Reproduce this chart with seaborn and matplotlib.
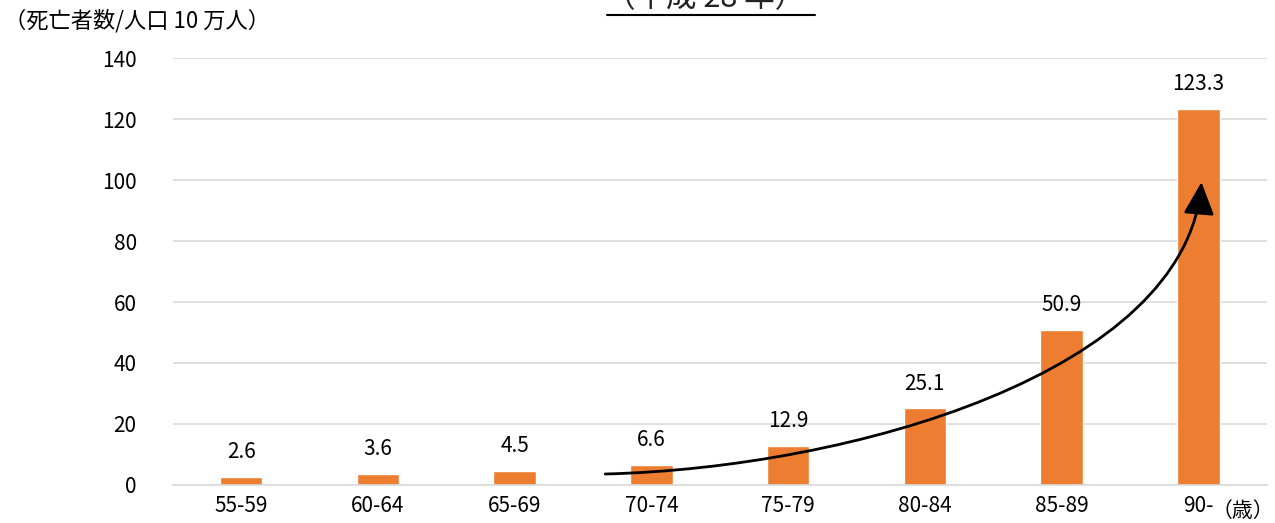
import matplotlib
matplotlib.use("Agg")
import numpy as np
import pandas as pd
import matplotlib.pyplot as plt
import seaborn as sns
from matplotlib.path import Path
from matplotlib.patches import FancyArrowPatch
from matplotlib.lines import Line2D

# =========================
# Data
# =========================
age_groups = ["55-59", "60-64", "65-69", "70-74", "75-79", "80-84", "85-89", "90-"]
death_rate = [2.6, 3.6, 4.5, 6.6, 12.9, 25.1, 50.9, 123.3]
y_ticks = [0, 20, 40, 60, 80, 100, 120, 140]

TITLE = "（平成 28 年）"
Y_LABEL = "（死亡者数/人口 10 万人）"
X_UNIT = "（歳）"

df = pd.DataFrame({"age": age_groups, "rate": death_rate})

# =========================
# Style
# =========================
sns.set_theme(style="whitegrid")
plt.rcParams["font.family"] = ["Noto Sans CJK JP", "DejaVu Sans"]

BAR_COLOR = "#ED7D31"
GRID_COLOR = "#D9D9D9"
TEXT_COLOR = "#000000"

fig = plt.figure(figsize=(12.75, 5.23), dpi=100)
ax = fig.add_axes([0.1355, 0.0727, 0.858, 0.8163])

sns.barplot(data=df, x="age", y="rate", color=BAR_COLOR, width=0.31,
            saturation=1, ax=ax)

ax.set_ylim(0, 140)
ax.set_yticks(y_ticks)
ax.set_xlim(-0.5, len(age_groups) - 0.5)
ax.set_xlabel("")
ax.set_ylabel("")

ax.grid(axis="y", color=GRID_COLOR, linewidth=1.2)
ax.grid(axis="x", visible=False)
for side in ["left", "right", "top"]:
    ax.spines[side].set_visible(False)
ax.spines["bottom"].set_color(GRID_COLOR)
ax.spines["bottom"].set_linewidth(1.2)
ax.set_axisbelow(True)

ax.tick_params(axis="y", length=0, pad=26, labelsize=15, labelcolor=TEXT_COLOR)
ax.tick_params(axis="x", length=0, pad=7, labelsize=15, labelcolor=TEXT_COLOR)

# data labels
ax.bar_label(ax.containers[0], labels=[f"{v:.1f}" for v in death_rate],
             padding=10, fontsize=15, color=TEXT_COLOR)

# growth arrow (annotation)
verts = [(2.663, 3.6), (4.455, 5.6), (6.906, 36.7), (7.023, 99.3)]
codes = [Path.MOVETO, Path.CURVE4, Path.CURVE4, Path.CURVE4]
arrow = FancyArrowPatch(path=Path(verts, codes),
                        arrowstyle="-|>,head_length=2.0,head_width=0.95",
                        mutation_scale=10, lw=2, color="black",
                        transform=ax.transData, zorder=5)
ax.add_patch(arrow)

# texts
fig.text(4 / 1275, 1 - 21 / 523, Y_LABEL, fontsize=16, ha="left", va="center",
         color=TEXT_COLOR)
fig.text(1274 / 1275, 1 - 511 / 523, X_UNIT, fontsize=15, ha="right", va="center",
         color=TEXT_COLOR)
fig.text(705 / 1275, 1 - 7 / 523, TITLE, fontsize=22, ha="center",
         va="baseline", color="#222222")
fig.add_artist(Line2D([607 / 1275, 815 / 1275], [1 - 15 / 523, 1 - 15 / 523],
                      transform=fig.transFigure, color="black", lw=1.5))

plt.savefig("out.png", dpi=100)
